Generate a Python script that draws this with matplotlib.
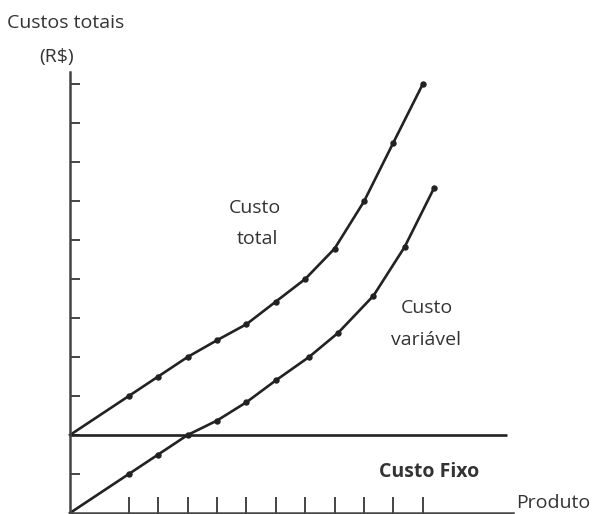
import matplotlib.pyplot as plt

# quantidade produzida (unidades do eixo) e custos (unidades do eixo)
qtd_total = [0, 2, 3, 4, 5, 6, 7, 8, 9, 10, 11, 12]
custo_total = [2.0, 3.0, 3.5, 4.0, 4.43, 4.84, 5.42, 6.0, 6.78, 7.99, 9.5, 11.0]

qtd_variavel = [0, 2, 3, 4, 5, 6, 7, 8.13, 9.12, 10.32, 11.38, 12.38]
custo_variavel = [0, 1.0, 1.5, 2.0, 2.37, 2.84, 3.4, 4.0, 4.62, 5.57, 6.82, 8.33]

custo_fixo = 2.0
fim_custo_fixo = 14.86

y_ticks = [1, 2, 3, 4, 5, 6, 7, 8, 9, 10, 11]
x_ticks = [2, 3, 4, 5, 6, 7, 8, 9, 10, 11, 12]

plt.rcParams['font.family'] = ['Open Sans', 'DejaVu Sans']
cor_linha = '#222222'
cor_texto = '#333333'
tam = 14

fig = plt.figure(figsize=(5.93, 5.14), dpi=100)
ax = fig.add_axes([70 / 593, 1 / 514, 442.5 / 593, 440.7 / 514])

# Curvas
ax.plot(qtd_total, custo_total, color=cor_linha, lw=1.9, marker='o', ms=3.6,
        markevery=list(range(1, len(qtd_total))), clip_on=False)
ax.plot(qtd_variavel, custo_variavel, color=cor_linha, lw=1.9, marker='o', ms=3.6,
        markevery=list(range(1, len(qtd_variavel))), clip_on=False)
ax.hlines(custo_fixo, 0, fim_custo_fixo, color=cor_linha, lw=1.9, clip_on=False)

ax.set_xlim(0, 15.05)
ax.set_ylim(0, 11.3)

# Eixos
ax.spines['top'].set_visible(False)
ax.spines['right'].set_visible(False)
for s in ['left', 'bottom']:
    ax.spines[s].set_color('#444444')
    ax.spines[s].set_linewidth(1.8)

ax.set_yticks(y_ticks)
ax.set_xticks(x_ticks)
ax.set_yticklabels([])
ax.set_xticklabels([])
ax.tick_params(axis='y', direction='in', length=7.5, width=1.4, color='#444444')
ax.tick_params(axis='x', direction='in', length=11.5, width=1.4, color='#444444')

# Textos
fig.text(66 / 593, 1 - 23 / 514, 'Custos totais', ha='center', va='center',
         fontsize=tam, color=cor_texto)
fig.text(57 / 593, 1 - 57 / 514, '(R$)', ha='center', va='center',
         fontsize=tam, color=cor_texto)
fig.text(255 / 593, 1 - 208 / 514, 'Custo', ha='center', va='center',
         fontsize=tam, color=cor_texto)
fig.text(257 / 593, 1 - 239 / 514, 'total', ha='center', va='center',
         fontsize=tam, color=cor_texto)
fig.text(427 / 593, 1 - 308 / 514, 'Custo', ha='center', va='center',
         fontsize=tam, color=cor_texto)
fig.text(426 / 593, 1 - 340 / 514, 'variável', ha='center', va='center',
         fontsize=tam, color=cor_texto)
fig.text(429 / 593, 1 - 472 / 514, 'Custo Fixo', ha='center', va='center',
         fontsize=tam, fontweight='bold', color=cor_texto)
fig.text(553 / 593, 1 - 503 / 514, 'Produto', ha='center', va='center',
         fontsize=tam, color=cor_texto)

fig.savefig('out.png', dpi=100)
